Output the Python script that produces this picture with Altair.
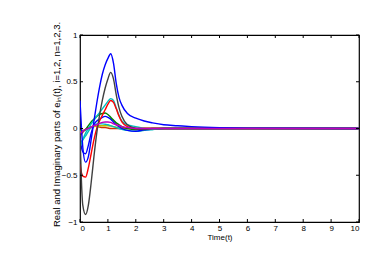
import altair as alt
import pandas as pd

T = [0, 0.05, 0.1, 0.2, 0.3, 0.4, 0.5, 0.6, 0.7, 0.8, 0.9, 1.0, 1.1, 1.2, 1.3, 1.4, 1.5,
     1.7, 2.0, 2.3, 2.6, 3.0, 3.5, 4.0, 5.0, 6.0, 10.0]

s_darkred = [-0.08, -0.06, -0.04, -0.01, 0.01, 0.02, 0.025, 0.02, 0.015, 0.01, 0.01, 0.005, 0.0, 0.0, 0.0, 0.0, 0.0,
             0.0, 0.0, 0.0, 0.0, 0.0, 0.0, 0.0, 0.0, 0.0, 0.0]
s_yellow = [-0.03, -0.025, -0.02, -0.01, 0.0, 0.01, 0.02, 0.025, 0.03, 0.03, 0.03, 0.03, 0.025, 0.02, 0.015, 0.01, 0.01,
            0.005, 0.0, 0.0, 0.0, 0.0, 0.0, 0.0, 0.0, 0.0, 0.0]
s_cyan2 = [-0.15, -0.14, -0.12, -0.08, -0.03, 0.01, 0.03, 0.05, 0.05, 0.05, 0.045, 0.04, 0.03, 0.02, 0.01, 0.0, -0.01,
           -0.02, -0.03, -0.02, -0.01, 0.0, 0.0, 0.0, 0.0, 0.0, 0.0]
s_blue2 = [-0.10, -0.20, -0.25, -0.27, -0.18, -0.05, 0.04, 0.08, 0.10, 0.12, 0.13, 0.12, 0.10, 0.07, 0.04, 0.02, 0.0,
           -0.02, -0.03, -0.015, -0.005, 0.0, 0.0, 0.0, 0.0, 0.0, 0.0]
s_green = [-0.05, -0.04, -0.03, -0.01, 0.03, 0.07, 0.10, 0.13, 0.15, 0.16, 0.165, 0.15, 0.12, 0.09, 0.06, 0.04, 0.02,
           0.0, -0.01, 0.0, 0.0, 0.0, 0.0, 0.0, 0.0, 0.0, 0.0]
s_cyan = [-0.20, -0.16, -0.12, -0.05, 0.0, 0.05, 0.09, 0.13, 0.17, 0.21, 0.25, 0.29, 0.32, 0.30, 0.22, 0.14, 0.08,
          0.04, 0.02, 0.0, -0.01, 0.0, 0.0, 0.0, 0.0, 0.0, 0.0]
s_red = [-0.38, -0.47, -0.51, -0.52, -0.42, -0.27, -0.12, 0.0, 0.08, 0.14, 0.20, 0.26, 0.30, 0.28, 0.21, 0.13, 0.07,
         0.02, 0.0, 0.0, 0.0, 0.0, 0.0, 0.0, 0.0, 0.0, 0.0]
s_black = [-0.05, -0.55, -0.82, -0.92, -0.82, -0.58, -0.30, -0.05, 0.14, 0.30, 0.43, 0.53, 0.60, 0.53, 0.36, 0.22, 0.13,
           0.04, 0.0, -0.01, 0.0, 0.0, 0.0, 0.0, 0.0, 0.0, 0.0]
s_blue1 = [0.30, 0.02, -0.20, -0.36, -0.30, -0.12, 0.08, 0.27, 0.44, 0.58, 0.68, 0.75, 0.80, 0.70, 0.48, 0.33, 0.25,
           0.16, 0.11, 0.08, 0.06, 0.04, 0.03, 0.02, 0.008, 0.003, 0.0]
s_magenta = [-0.05, -0.04, -0.03, -0.01, 0.0, 0.015, 0.03, 0.04, 0.055, 0.065, 0.07, 0.07, 0.065, 0.05, 0.04, 0.03, 0.02,
             0.01, 0.0, 0.0, 0.0, 0.0, 0.0, 0.0, 0.0, 0.0, 0.0]

series = [
    ("s01", s_darkred, "#cc3300"),
    ("s02", s_yellow, "#bfbf00"),
    ("s03", s_cyan2, "#00bfbf"),
    ("s04", s_blue2, "#0000ff"),
    ("s05", s_green, "#008000"),
    ("s06", s_cyan, "#00bfbf"),
    ("s07", s_red, "#ff0000"),
    ("s08", s_black, "#404040"),
    ("s09", s_blue1, "#0000ff"),
    ("s10", s_magenta, "#bf00bf"),
]

rows = []
for name, vals, _ in series:
    for t, v in zip(T, vals):
        rows.append({"s": name, "t": t, "v": v})
df = pd.DataFrame(rows)

x_ticks = [0, 1, 2, 3, 4, 5, 6, 7, 8, 9, 10]
y_ticks = [-1, -0.5, 0, 0.5, 1]

W, H = 279, 187
FONT = "Liberation Sans"

xscale = alt.Scale(domain=[0, 10], nice=False, zero=False)
yscale = alt.Scale(domain=[-1, 1], nice=False, zero=False)

xaxis = alt.Axis(values=x_ticks, title="Time(t)", tickSize=0, labelPadding=2,
                 labelOverlap=False, format="d",
                 grid=False, domain=False, labelFontSize=8, titleFontSize=8,
                 titleFontWeight="normal", titlePadding=1, labelFont=FONT, titleFont=FONT,
                 labelColor="#000", titleColor="#000")
yaxis = alt.Axis(values=y_ticks, title="Real and Imaginary parts of eᵢₙ(t), i=1,2, n=1,2,3.",
                 tickSize=0, labelPadding=3, grid=False, domain=False, format="~g",
                 labelOverlap=False,
                 labelFontSize=8, titleFontSize=9.5, titleFontWeight="normal",
                 labelFont=FONT, titleFont=FONT, labelColor="#000", titleColor="#000",
                 titleX=-24, titleY=89, titleAlign="center", titleBaseline="middle",
                 titleAngle=270)

lines = alt.Chart(df).mark_line(strokeWidth=1.4, interpolate="monotone", clip=True).encode(
    x=alt.X("t:Q", scale=xscale, axis=xaxis),
    y=alt.Y("v:Q", scale=yscale, axis=yaxis),
    color=alt.Color("s:N", scale=alt.Scale(domain=[s[0] for s in series], range=[s[2] for s in series]),
                    legend=None),
    detail="s:N",
)

xt = pd.DataFrame({"t": x_ticks})
yt = pd.DataFrame({"v": y_ticks})

xtick_bot = alt.Chart(xt).mark_rule(color="#000", strokeWidth=1).encode(
    x=alt.X("t:Q", scale=xscale, axis=xaxis), y=alt.value(H), y2=alt.value(H - 3))
xtick_top = alt.Chart(xt).mark_rule(color="#000", strokeWidth=1).encode(
    x=alt.X("t:Q", scale=xscale, axis=xaxis), y=alt.value(0), y2=alt.value(3))
ytick_l = alt.Chart(yt).mark_rule(color="#000", strokeWidth=1).encode(
    y=alt.Y("v:Q", scale=yscale, axis=yaxis), x=alt.value(0), x2=alt.value(3))
ytick_r = alt.Chart(yt).mark_rule(color="#000", strokeWidth=1).encode(
    y=alt.Y("v:Q", scale=yscale, axis=yaxis), x=alt.value(W), x2=alt.value(W - 3))

chart = alt.layer(lines, xtick_bot, xtick_top, ytick_l, ytick_r).properties(
    width=W, height=H,
    padding={"left": 72, "top": 27, "right": 8, "bottom": 24},
    autosize="none",
    background="white",
).configure_view(stroke="#000", strokeWidth=1.2)

chart.save("out.html", embed_options={"renderer": "svg", "actions": False})
